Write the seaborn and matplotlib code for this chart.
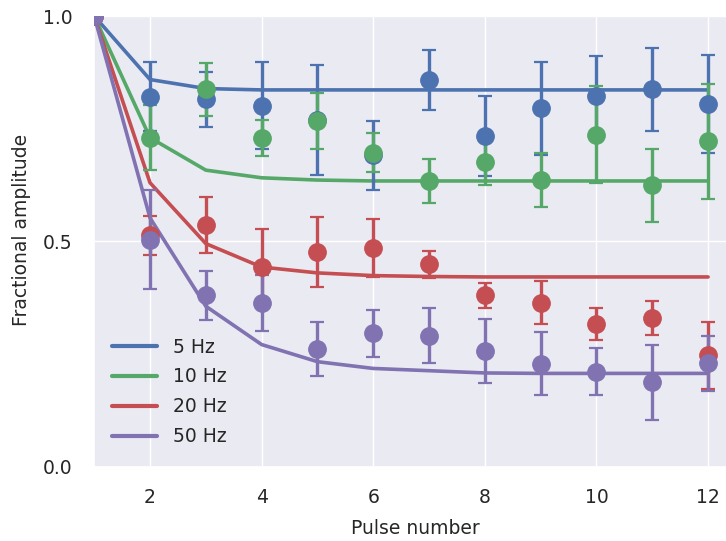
import numpy as np
import pandas as pd
import matplotlib
matplotlib.use("Agg")
import matplotlib.pyplot as plt
import seaborn as sns

# Pulse index of the train
pulses = list(range(1, 13))
labels = ["5 Hz", "10 Hz", "20 Hz", "50 Hz"]
colors = ["#4C72B0", "#55A868", "#C44E52", "#8172B2"]

# Measured fractional amplitudes (mean) and their errors
amp_5 = [1.0, 0.821, 0.815, 0.801, 0.769, 0.691, 0.858, 0.734, 0.795, 0.823, 0.837, 0.805]
err_5 = [0.0, 0.077, 0.061, 0.097, 0.122, 0.077, 0.067, 0.089, 0.103, 0.088, 0.093, 0.108]
amp_10 = [1.0, 0.730, 0.837, 0.730, 0.767, 0.697, 0.634, 0.677, 0.636, 0.737, 0.624, 0.722]
err_10 = [0.0, 0.072, 0.058, 0.040, 0.063, 0.044, 0.049, 0.053, 0.060, 0.107, 0.081, 0.128]
amp_20 = [1.0, 0.513, 0.536, 0.443, 0.476, 0.486, 0.449, 0.380, 0.364, 0.317, 0.330, 0.247]
err_20 = [0.0, 0.043, 0.062, 0.084, 0.078, 0.064, 0.030, 0.028, 0.048, 0.036, 0.038, 0.074]
amp_50 = [1.0, 0.504, 0.380, 0.363, 0.261, 0.296, 0.291, 0.256, 0.228, 0.211, 0.187, 0.230]
err_50 = [0.0, 0.110, 0.055, 0.062, 0.060, 0.052, 0.061, 0.071, 0.070, 0.052, 0.083, 0.061]

# Model fits of the depression
fit_5 = [1.0, 0.859, 0.839, 0.836, 0.836, 0.836, 0.836, 0.836, 0.836, 0.836, 0.836, 0.836]
fit_10 = [1.0, 0.730, 0.658, 0.641, 0.636, 0.634, 0.634, 0.634, 0.634, 0.634, 0.634, 0.634]
fit_20 = [1.0, 0.630, 0.495, 0.443, 0.430, 0.424, 0.422, 0.421, 0.421, 0.421, 0.421, 0.421]
fit_50 = [1.0, 0.552, 0.356, 0.271, 0.233, 0.218, 0.213, 0.208, 0.207, 0.207, 0.207, 0.207]

amps = [amp_5, amp_10, amp_20, amp_50]
errs = [err_5, err_10, err_20, err_50]
fits = [fit_5, fit_10, fit_20, fit_50]

fit_df = pd.concat(
    [pd.DataFrame({"pulse": pulses, "amp": f, "freq": lab}) for f, lab in zip(fits, labels)],
    ignore_index=True,
)

sns.set_theme(style="darkgrid")
plt.rcParams["font.family"] = ["DejaVu Sans"]
text_color = "#262626"
fs = 13.5

W, H = 726, 541
fig = plt.figure(figsize=(W / 100, H / 100), dpi=100)
left_px, right_px, top_px, bottom_px = 94.2, 736.0, 16.0, 466.7
ax = fig.add_axes([left_px / W, 1 - bottom_px / H,
                   (right_px - left_px) / W, (bottom_px - top_px) / H])

sns.lineplot(data=fit_df, x="pulse", y="amp", hue="freq", hue_order=labels,
             palette=colors, linewidth=2.6, ax=ax, legend=True, zorder=2)

for a, e, c in zip(amps, errs, colors):
    ax.errorbar(pulses, a, yerr=e, fmt="o", color=c, markersize=12.5,
                elinewidth=2.4, capsize=5, capthick=1.6, zorder=3)

ax.set_xlim(1, 12.5)
ax.set_ylim(0, 1)
ax.set_xticks([2, 4, 6, 8, 10, 12])
ax.set_yticks([0.0, 0.5, 1.0])
ax.set_yticklabels(["0.0", "0.5", "1.0"])
ax.tick_params(axis="both", which="major", length=2, width=1, color=text_color,
               labelsize=fs, labelcolor=text_color)
ax.tick_params(axis="x", pad=13)
ax.tick_params(axis="y", pad=13.5)

ax.set_xlabel("Pulse number", fontsize=fs, color=text_color, labelpad=9)
ax.set_ylabel("Fractional amplitude", fontsize=fs, color=text_color)
ax.yaxis.set_label_coords(-0.098, 0.525)

leg = ax.legend(loc="lower left", frameon=False, fontsize=fs,
                bbox_to_anchor=(17.5 / (right_px - left_px), 20.5 / (bottom_px - top_px)),
                borderaxespad=0, borderpad=0, handlelength=2.4, handletextpad=0.85,
                labelspacing=0.58)
for line in leg.get_lines():
    line.set_linewidth(3.0)
for t in leg.get_texts():
    t.set_color(text_color)

fig.savefig("out.png", dpi=100)
